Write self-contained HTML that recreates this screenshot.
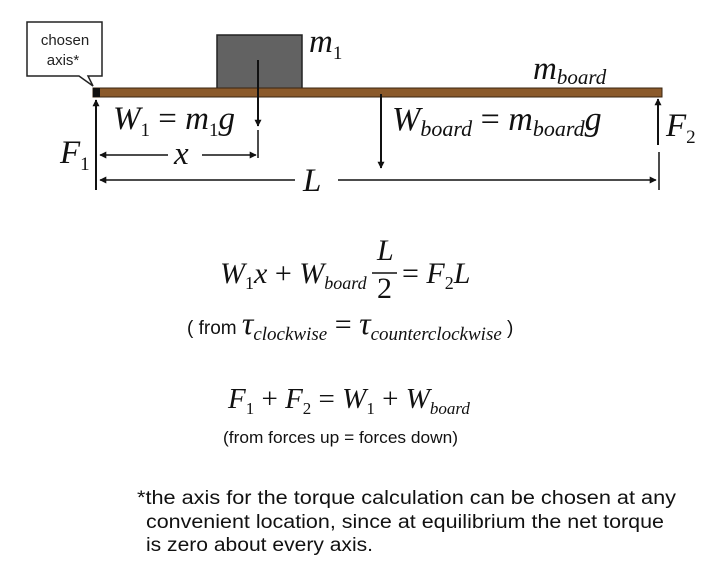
<!DOCTYPE html>
<html><head><style>body{margin:0;background:#fff}svg{display:block}</style></head><body>
<svg width="720" height="577" viewBox="0 0 720 577" xmlns="http://www.w3.org/2000/svg">
<defs>
<marker id="a" viewBox="0 0 10 10" refX="9" refY="5" markerWidth="7" markerHeight="9" orient="auto" markerUnits="userSpaceOnUse"><path d="M0,0 L10,5 L0,10 z" fill="#111"/></marker>
</defs>
<path d="M27,22 H102 V76 H88 L93,86 L79,76 H27 Z" fill="#fff" stroke="#222" stroke-width="1.5"/>
<text x="65" y="45" font-family="Liberation Sans,sans-serif" font-size="15" text-anchor="middle" fill="#222">chosen</text>
<text x="63" y="65" font-family="Liberation Sans,sans-serif" font-size="15" text-anchor="middle" fill="#222">axis*</text>
<rect x="217" y="35" width="85" height="54" fill="#626262" stroke="#222" stroke-width="1.5"/>
<rect x="93" y="88" width="569" height="9" fill="#8b5a2b" stroke="#3a2410" stroke-width="1"/>
<rect x="93" y="88" width="7" height="9" fill="#111"/>
<g stroke="#111" stroke-width="2" fill="none">
<line x1="96" y1="190" x2="96" y2="100" marker-end="url(#a)"/>
<line x1="258" y1="60" x2="258" y2="126" marker-end="url(#a)"/>
<line x1="258" y1="130" x2="258" y2="158" stroke-width="1.5"/>
<line x1="381" y1="94" x2="381" y2="168" marker-end="url(#a)"/>
<line x1="658" y1="145" x2="658" y2="99" marker-end="url(#a)"/>
<line x1="659" y1="152" x2="659" y2="190" stroke-width="1.5"/>
<line x1="168" y1="155" x2="100" y2="155" stroke-width="1.5" marker-end="url(#a)"/>
<line x1="202" y1="155" x2="256" y2="155" stroke-width="1.5" marker-end="url(#a)"/>
<line x1="295" y1="180" x2="100" y2="180" stroke-width="1.5" marker-end="url(#a)"/>
<line x1="338" y1="180" x2="656" y2="180" stroke-width="1.5" marker-end="url(#a)"/>
</g>
<g font-family="Liberation Serif,serif" font-style="italic" fill="#111">
<text x="309" y="52" font-size="33">m<tspan font-size="19" font-style="normal" dy="7">1</tspan></text>
<text x="533" y="79" font-size="33">m<tspan font-size="21" dy="5">board</tspan></text>
<text x="113" y="129" font-size="33">W<tspan font-size="19" font-style="normal" dy="7">1</tspan><tspan dy="-7" font-style="normal"> = </tspan>m<tspan font-size="19" font-style="normal" dy="7">1</tspan><tspan dy="-7">g</tspan></text>
<text x="60" y="163" font-size="33">F<tspan font-size="19" font-style="normal" dy="7">1</tspan></text>
<text x="174" y="164" font-size="33">x</text>
<text x="303" y="191" font-size="33">L</text>
<text x="392" y="130" font-size="34">W<tspan font-size="22" dy="6">board</tspan><tspan dy="-6" font-style="normal"> = </tspan>m<tspan font-size="22" dy="6">board</tspan><tspan dy="-6">g</tspan></text>
<text x="666" y="136" font-size="33">F<tspan font-size="19" font-style="normal" dy="7">2</tspan></text>
<text x="220" y="283" font-size="30">W<tspan font-size="18" font-style="normal" dy="6">1</tspan><tspan dy="-6">x</tspan><tspan font-style="normal"> + </tspan>W<tspan font-size="18" dy="6">board</tspan></text>
<text x="377" y="260" font-size="30">L</text>
<line x1="372" y1="273" x2="397" y2="273" stroke="#111" stroke-width="1.5"/>
<text x="377" y="298" font-size="30" font-style="normal">2</text>
<text x="402" y="283" font-size="30"><tspan font-style="normal">= </tspan>F<tspan font-size="18" font-style="normal" dy="6">2</tspan><tspan dy="-6">L</tspan></text>
<text x="228" y="408" font-size="29">F<tspan font-size="17" font-style="normal" dy="6">1</tspan><tspan dy="-6" font-style="normal"> + </tspan>F<tspan font-size="17" font-style="normal" dy="6">2</tspan><tspan dy="-6" font-style="normal"> = </tspan>W<tspan font-size="17" font-style="normal" dy="6">1</tspan><tspan dy="-6" font-style="normal"> + </tspan>W<tspan font-size="17" dy="6">board</tspan></text>
</g>
<text x="187" y="334" font-family="Liberation Sans,sans-serif" font-size="19" fill="#111">( from <tspan font-family="Liberation Serif,serif" font-style="italic" font-size="32">τ</tspan><tspan font-family="Liberation Serif,serif" font-style="italic" font-size="19" dy="6">clockwise</tspan><tspan dy="-6" font-family="Liberation Serif,serif" font-size="30"> = </tspan><tspan font-family="Liberation Serif,serif" font-style="italic" font-size="32">τ</tspan><tspan font-family="Liberation Serif,serif" font-style="italic" font-size="19" dy="6">counterclockwise</tspan><tspan dy="-6"> )</tspan></text>
<text x="223" y="443" font-family="Liberation Sans,sans-serif" font-size="17" fill="#111" textLength="235" lengthAdjust="spacingAndGlyphs">(from forces up = forces down)</text>
<g font-family="Liberation Sans,sans-serif" font-size="19" fill="#111">
<text x="137" y="504" textLength="539" lengthAdjust="spacingAndGlyphs">*the axis for the torque calculation can be chosen at any</text>
<text x="146" y="528" textLength="518" lengthAdjust="spacingAndGlyphs">convenient location, since at equilibrium the net torque</text>
<text x="146" y="551" textLength="227" lengthAdjust="spacingAndGlyphs">is zero about every axis.</text>
</g>
</svg>
</body></html>
